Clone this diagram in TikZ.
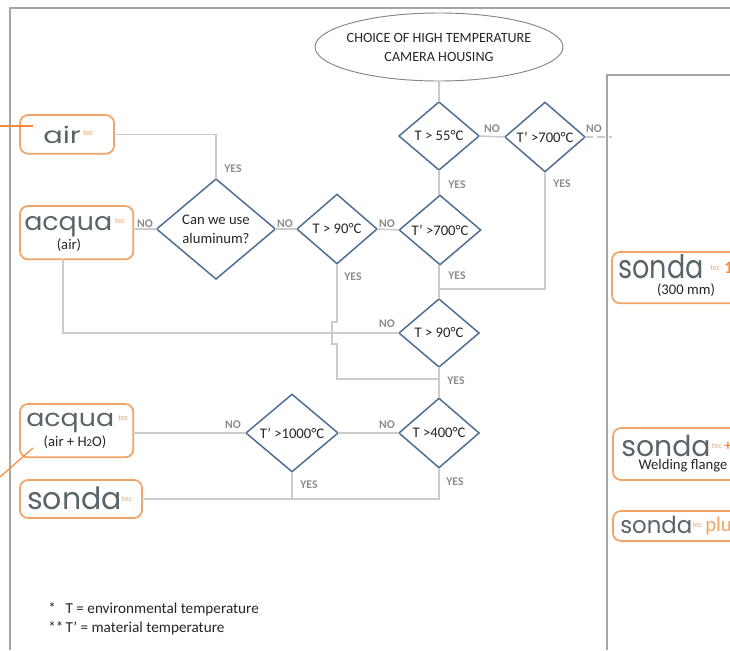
\documentclass[tikz,border=0pt]{standalone}
\usepackage{fontspec}
\usepackage{graphicx}
\setmainfont{Carlito}
\newfontfamily\logofont{Poppins}
\usetikzlibrary{shapes.geometric}
\definecolor{flow}{HTML}{C9CBCC}
\definecolor{framec}{HTML}{A6A6A6}
\definecolor{dia}{HTML}{4A6D94}
\definecolor{orangec}{HTML}{F0A468}
\definecolor{orangel}{HTML}{F58A3C}
\definecolor{logoc}{HTML}{59656A}
\definecolor{lab}{HTML}{8C8C8C}
\definecolor{txt}{HTML}{262626}
% word, width, height, gap to "tec", raise of "tec"
\newcommand{\brandlogo}[5]{\resizebox{#2}{#3}{\logofont\color{logoc}#1}\makebox[0pt][l]{\hspace{#4}\raisebox{#5}{\fontsize{6}{6}\selectfont\color{orangec}tec}}}
\tikzset{
 x=0.75pt,y=-0.75pt,
 flowline/.style={draw=flow,line width=1.1pt},
 decis/.style={diamond,draw=dia,line width=1.1pt,inner sep=0pt,outer sep=0pt,fill=white},
 dtext/.style={text=txt,font=\fontsize{11}{14}\selectfont,align=center,inner sep=0pt},
 ctext/.style={text=txt,font=\fontsize{10.6}{14.4}\selectfont,align=center,inner sep=0pt},
 yn/.style={text=lab,font=\fontsize{8.8}{9}\selectfont\bfseries,inner sep=0pt},
 prod/.style={draw=orangec,line width=1.3pt,rounded corners=6pt,fill=white,inner sep=0pt,outer sep=0pt,anchor=north west},
 logobox/.style={inner sep=0pt,anchor=base west},
 note/.style={text=txt,font=\fontsize{11.4}{12}\selectfont,inner sep=0pt,anchor=base west},
}
\begin{document}
\begin{tikzpicture}
\path[use as bounding box] (0,0) rectangle (730,650);
\clip (0,0) rectangle (730,650);
\fill[white] (0,0) rectangle (730,650);
% frames
\draw[framec,line width=1.1pt] (10,650) -- (10,8) -- (730,8);
\draw[framec,line width=1.1pt] (607,650) -- (607,75) -- (730,75);
% nodes
\node[ellipse,draw=framec!80!black,line width=.7pt,fill=white,minimum width=186pt,minimum height=51pt,inner sep=0pt,outer sep=0pt] (start) at (439,47) {};
\node[ctext] at (439,47.5) {CHOICE OF HIGH TEMPERATURE\\CAMERA HOUSING};
\node[decis,minimum width=60pt,minimum height=51pt] (d55) at (439,136) {};
\node[decis,minimum width=60pt,minimum height=52pt] (d700a) at (545,137) {};
\node[decis,minimum width=89pt,minimum height=75pt] (alu) at (216,229) {};
\node[decis,minimum width=60pt,minimum height=52pt] (d90a) at (337,229) {};
\node[decis,minimum width=61pt,minimum height=52pt] (d700b) at (440,230) {};
\node[decis,minimum width=60pt,minimum height=51pt] (d90b) at (439,333) {};
\node[decis,minimum width=60pt,minimum height=52pt] (d400) at (439,433) {};
\node[decis,minimum width=69pt,minimum height=58pt] (d1000) at (292,433) {};
\node[dtext] at (d55) {T > 55°C};
\node[dtext] at (d700a) {T’ >700°C};
\node[dtext] at (alu) {Can we use\\aluminum?};
\node[dtext] at (d90a) {T > 90°C};
\node[dtext] at (d700b) {T’ >700°C};
\node[dtext] at (d90b) {T > 90°C};
\node[dtext] at (d400) {T >400°C};
\node[dtext] at (d1000) {T’ >1000°C};
% products
\node[prod,minimum width=70.5pt,minimum height=29pt] (air) at (20,115) {};
\node[prod,minimum width=85pt,minimum height=40pt] (acq) at (20,206) {};
\node[prod,minimum width=85pt,minimum height=40pt] (acqw) at (20,404) {};
\node[prod,minimum width=91.5pt,minimum height=28.5pt] (son) at (20,480) {};
\node[prod,minimum width=120pt,minimum height=38.5pt] (son1) at (612,252) {};
\node[prod,minimum width=120pt,minimum height=39pt] (sonw) at (613,428) {};
\node[prod,minimum width=120pt,minimum height=22.5pt] (sonp) at (613,511) {};
% connectors
\coordinate (acqdrop) at (63,259);
\coordinate (b1) at (337,322);
\coordinate (b2) at (332,322);
\coordinate (b3) at (332,344);
\coordinate (b4) at (337,344);
\coordinate (j1) at (337,379);
\coordinate (j2) at (439,379);
\coordinate (j3) at (545,289);
\coordinate (j4) at (439,289);
\coordinate (dashend) at (612,137);
\draw[flowline] (start.south) -- (d55.north);
\draw[flowline] (d55.east) -- (d700a.west);
\draw[flowline] (d55.south) -- (d700b.north -| d55.south);
\draw[flowline] (d700b.south -| d90b.north) -- (d90b.north);
\draw[flowline] (air.east) -| (alu.north);
\draw[flowline] (acq.east |- alu.west) -- (alu.west);
\draw[flowline] (alu.east) -- (d90a.west);
\draw[flowline] (d90a.east) -- (d700b.west);
\draw[flowline] (d700a.south) -- (j3) -- (j4);
\draw[flowline] (acqdrop) |- (d90b.west);
\draw[flowline] (d90a.south) -- (b1) -- (b2) -- (b3) -- (b4) -- (j1) -- (j2);
\draw[flowline] (d90b.south) -- (d400.north);
\draw[flowline] (d400.west) -- (d1000.east);
\draw[flowline] (d1000.west) -- (acqw.east |- d1000.west);
\draw[flowline] (son.east) -- (son.east -| d400.south) -- (d400.south);
\draw[flowline] (d1000.south) -- (d1000.south |- son.east);
\draw[flowline,dash pattern=on 6pt off 3pt] (d700a.east) -- (dashend);
% orange leaders
\coordinate (o1) at (0,126);
\coordinate (o2) at (33,126);
\coordinate (o3) at (0,477);
\coordinate (o4) at (33,448);
\draw[orangel,line width=.9pt] (o1) -- (o2);
\draw[orangel,line width=.9pt] (o3) -- (o4);
% labels
\node[yn] at (233,169) {YES};
\node[yn] at (145,224) {NO};
\node[yn] at (285,224) {NO};
\node[yn] at (387,224) {NO};
\node[yn] at (492,129) {NO};
\node[yn] at (594,129) {NO};
\node[yn] at (457,185) {YES};
\node[yn] at (562,184) {YES};
\node[yn] at (353,277) {YES};
\node[yn] at (457,276) {YES};
\node[yn] at (387,324) {NO};
\node[yn] at (456,381) {YES};
\node[yn] at (233,425) {NO};
\node[yn] at (387,425) {NO};
\node[yn] at (309,485) {YES};
\node[yn] at (455,482) {YES};
% logos
\node[logobox] at (43,143) {\brandlogo{air}{28pt}{13pt}{2pt}{6pt}};
\node[logobox] at (24,230) {\brandlogo{acqua}{66pt}{10.5pt}{2pt}{5pt}};
\node[dtext] at (69,245) {(air)};
\node[logobox] at (26,426) {\brandlogo{acqua}{66pt}{10pt}{3pt}{4.5pt}};
\node[dtext] at (75,442) {(air + H{\fontsize{8}{8}\selectfont 2}O)};
\node[logobox] at (27,509) {\brandlogo{sonda}{71pt}{17pt}{0pt}{6pt}};
\node[logobox] at (618,278) {\brandlogo{sonda}{64pt}{18pt}{5pt}{6pt}};
\node[inner sep=0pt,anchor=west,text=orangel,font=\fontsize{13}{13}\selectfont\bfseries] at (724,268) {1};
\node[dtext] at (686,290) {(300 mm)};
\node[logobox] at (621,456) {\brandlogo{sonda}{67pt}{16pt}{1pt}{6pt}};
\node[inner sep=0pt,text=orangel,font=\fontsize{11}{11}\selectfont\bfseries] at (728,446) {+};
\node[dtext] at (683,466) {Welding flange};
\node[logobox] at (620,533) {\brandlogo{sonda}{54pt}{13pt}{0pt}{4.5pt}};
\node[inner sep=0pt,anchor=west,text=orangec,font=\fontsize{15.5}{15}\selectfont] at (705,526) {plus};
% notes
\node[note] at (48,613) {\makebox[13pt][l]{*}T = environmental temperature};
\node[note] at (48,632) {\makebox[13pt][l]{**}T’ = material temperature};
\end{tikzpicture}
\end{document}
